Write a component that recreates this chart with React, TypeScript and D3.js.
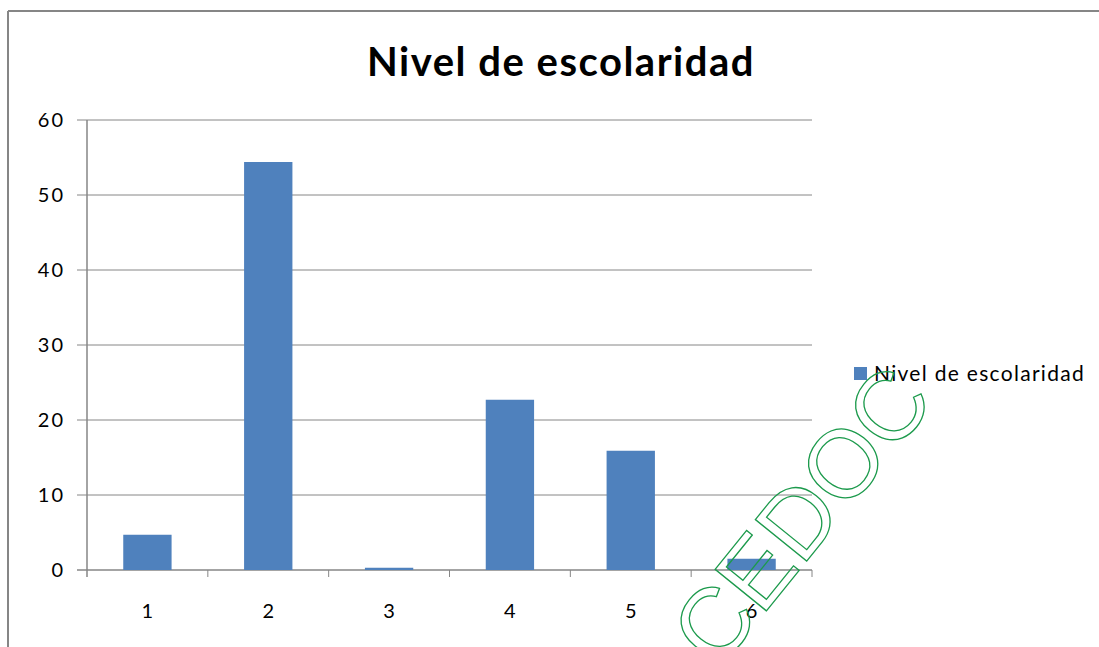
import React from 'react';
import * as d3 from 'd3';

const categories = ['1', '2', '3', '4', '5', '6'];
const values = [4.7, 54.4, 0.3, 22.7, 15.9, 1.5];
const yTicks = [0, 10, 20, 30, 40, 50, 60];
const seriesName = 'Nivel de escolaridad';
const title = 'Nivel de escolaridad';

const width = 1099;
const height = 647;
const margin = { top: 120, right: 287, bottom: 77, left: 87 };
const font = 'Lato, "Open Sans", sans-serif';
const gray = '#868686';
const barColor = '#4f81bd';

const App: React.FC = () => {
  const x = d3.scaleBand<string>()
    .domain(categories)
    .range([margin.left, width - margin.right])
    .paddingInner(0.6)
    .paddingOuter(0.3);

  const y = d3.scaleLinear()
    .domain([0, 60])
    .range([height - margin.bottom, margin.top]);

  const step = x.step();
  const x0 = margin.left;
  const x1 = width - margin.right;
  const yBase = y(0);

  return (
    <svg width={width} height={height} style={{ position: 'absolute', left: 0, top: 0, background: '#fff' }}>
      {/* outer frame */}
      <line x1={8} x2={width} y1={11} y2={11} stroke={gray} strokeWidth={2} />
      <line x1={8} x2={8} y1={11} y2={height} stroke={gray} strokeWidth={2} />

      <text x={561} y={76} textAnchor="middle" fontFamily={font} fontWeight="bold" fontSize={40} letterSpacing={1.5} fill="#000">
        {title}
      </text>

      {/* gridlines + y ticks */}
      {yTicks.map(t => (
        <g key={t}>
          <line x1={x0 - 10} x2={x1} y1={y(t)} y2={y(t)} stroke={gray} strokeWidth={t === 0 ? 1.5 : 1} />
          <text x={65} y={y(t)} dy="0.35em" textAnchor="end" fontFamily={font} fontSize={20} letterSpacing={2} fill="#000">{t}</text>
        </g>
      ))}
      <line x1={x0} x2={x0} y1={y(60)} y2={yBase + 7} stroke={gray} strokeWidth={1.5} />

      {/* x ticks */}
      {categories.map((c, i) => (
        <line key={'t' + c} x1={x0 + step * (i + 1)} x2={x0 + step * (i + 1)} y1={yBase} y2={yBase + 7} stroke={gray} strokeWidth={1} />
      ))}

      {categories.map((c, i) => (
        <rect key={c} x={x(c)} y={y(values[i])} width={x.bandwidth()} height={yBase - y(values[i])} fill={barColor} />
      ))}

      {categories.map(c => (
        <text key={'l' + c} x={(x(c) ?? 0) + x.bandwidth() / 2} y={618} textAnchor="middle" fontFamily={font} fontSize={20} fill="#000">{c}</text>
      ))}

      {/* legend */}
      <rect x={854} y={367} width={13} height={13} fill={barColor} />
      <text x={874} y={381} fontFamily={font} fontSize={21} letterSpacing={1.3} fill="#000">{seriesName}</text>

      {/* watermark */}
      <text
        x={0} y={0}
        transform="translate(801,515) rotate(-51)"
        textAnchor="middle"
        dominantBaseline="central"
        fontFamily='"Liberation Sans", sans-serif'
        fontSize={96}
        fill="none"
        stroke="#1c9a4c"
        strokeWidth={1.3}
      >CEDOC</text>
    </svg>
  );
};

export default App;
